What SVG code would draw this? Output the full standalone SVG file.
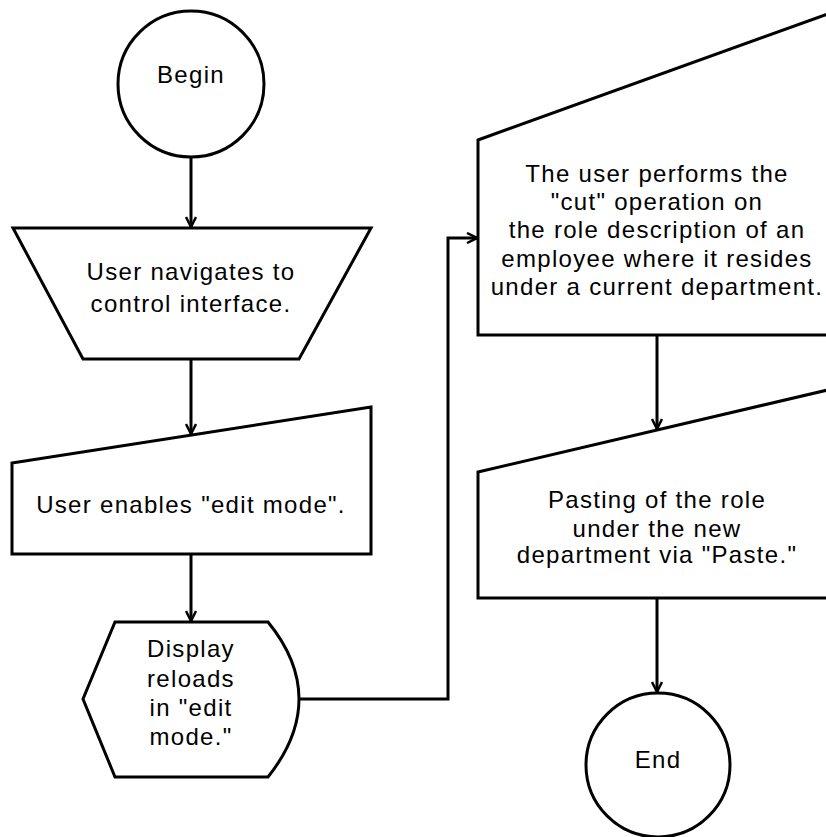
<svg xmlns="http://www.w3.org/2000/svg" width="826" height="837" viewBox="0 0 826 837">
<style>
.shape{fill:#fff;stroke:#000;stroke-width:3;stroke-linejoin:miter}
.conn{fill:none;stroke:#000;stroke-width:3}
text{font-family:"Liberation Sans",Arial,sans-serif;font-size:24px;letter-spacing:1.3px;fill:#000;text-anchor:middle}
</style>
<defs>
<marker id="arr" viewBox="0 0 12 12" refX="11" refY="6" markerWidth="12" markerHeight="12" markerUnits="userSpaceOnUse" orient="auto">
<path d="M1,1 L11,6 L1,11" fill="none" stroke="#000" stroke-width="2.5"/>
</marker>
</defs>
<rect width="826" height="837" fill="#fff"/>
<g id="connectors">
<path class="conn" d="M191,157 L191,227" marker-end="url(#arr)"/>
<path class="conn" d="M191,359 L191,434" marker-end="url(#arr)"/>
<path class="conn" d="M191,554 L191,621" marker-end="url(#arr)"/>
<path class="conn" d="M299,699 L448,699 L448,238 L477,238" marker-end="url(#arr)"/>
<path class="conn" d="M657,335 L657,429" marker-end="url(#arr)"/>
<path class="conn" d="M657,598 L657,692" marker-end="url(#arr)"/>
</g>
<g id="begin">
<circle class="shape" cx="191" cy="84" r="73"/>
<text x="191" y="83">Begin</text>
</g>
<g id="navigate">
<polygon class="shape" points="13,228 371,228 299,359 83,359"/>
<text x="191" y="280">User navigates to</text>
<text x="191" y="312">control interface.</text>
</g>
<g id="enable">
<polygon class="shape" points="12,463 371,407 371,554 12,554"/>
<text x="191" y="513">User enables "edit mode".</text>
</g>
<g id="display">
<path class="shape" d="M115,622 L268,622 Q299,660 299,699 Q299,738 268,777 L115,777 L83,699 Z"/>
<text x="191" y="657">Display</text>
<text x="191" y="687">reloads</text>
<text x="191" y="716">in "edit</text>
<text x="191" y="745">mode."</text>
</g>
<g id="cut">
<polygon class="shape" points="478,140 836,11 836,335 478,335"/>
<text x="657" y="182">The user performs the</text>
<text x="657" y="210">"cut" operation on</text>
<text x="657" y="238">the role description of an</text>
<text x="657" y="267">employee where it resides</text>
<text x="657" y="295">under a current department.</text>
</g>
<g id="paste">
<polygon class="shape" points="478,472 836,388 836,598 478,598"/>
<text x="657" y="508">Pasting of the role</text>
<text x="657" y="537">under the new</text>
<text x="657" y="563">department via "Paste."</text>
</g>
<g id="end">
<circle class="shape" cx="658" cy="765" r="72"/>
<text x="658" y="768">End</text>
</g>
</svg>
